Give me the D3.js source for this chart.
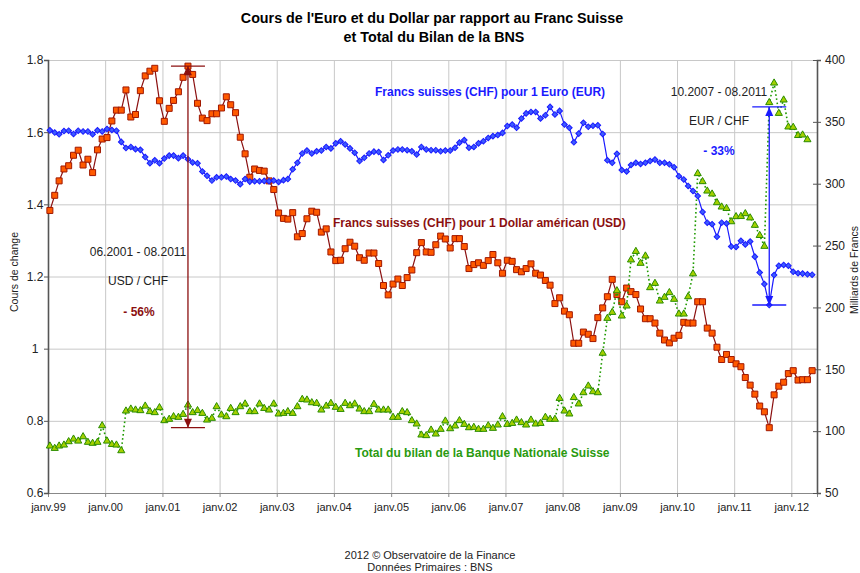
<!DOCTYPE html>
<html>
<head>
<meta charset="utf-8">
<script src="https://cdn.jsdelivr.net/npm/d3@7"></script>
<style>
body { margin: 0; background: #fff; }
text { font-family: "Liberation Sans", Arial, sans-serif; }
</style>
</head>
<body>
<script>
// monthly data, janv.1999 -> mai 2012
var yearLabels = ["janv.99","janv.00","janv.01","janv.02","janv.03","janv.04","janv.05",
  "janv.06","janv.07","janv.08","janv.09","janv.10","janv.11","janv.12"];

var eurChf = [1.605,1.599,1.594,1.603,1.604,1.595,1.604,1.602,1.602,1.594,1.605,1.602,
1.609,1.606,1.604,1.573,1.556,1.559,1.553,1.551,1.531,1.514,1.522,1.514,
1.527,1.535,1.535,1.528,1.535,1.525,1.516,1.514,1.491,1.479,1.466,1.475,
1.475,1.477,1.470,1.466,1.456,1.470,1.463,1.464,1.464,1.465,1.464,1.466,
1.462,1.467,1.470,1.497,1.515,1.541,1.549,1.541,1.547,1.549,1.559,1.555,
1.569,1.575,1.566,1.555,1.543,1.520,1.529,1.541,1.546,1.545,1.523,1.536,
1.549,1.552,1.552,1.550,1.547,1.538,1.559,1.552,1.550,1.550,1.547,1.549,
1.549,1.557,1.571,1.578,1.557,1.559,1.569,1.575,1.584,1.589,1.592,1.598,
1.617,1.621,1.612,1.638,1.652,1.656,1.656,1.638,1.647,1.670,1.649,1.659,
1.621,1.612,1.572,1.596,1.626,1.615,1.618,1.619,1.595,1.522,1.515,1.540,
1.495,1.491,1.509,1.515,1.512,1.515,1.520,1.524,1.515,1.515,1.511,1.503,
1.478,1.469,1.451,1.437,1.423,1.379,1.349,1.345,1.310,1.349,1.347,1.283,
1.282,1.299,1.289,1.297,1.255,1.211,1.179,1.121,1.204,1.230,1.232,1.230,
1.213,1.209,1.208,1.206,1.205];

var usdChf = [1.383,1.425,1.465,1.498,1.507,1.536,1.550,1.509,1.525,1.488,1.551,1.581,
1.585,1.631,1.661,1.661,1.717,1.642,1.649,1.715,1.756,1.769,1.777,1.687,
1.630,1.666,1.688,1.712,1.752,1.783,1.760,1.680,1.639,1.632,1.651,1.651,
1.667,1.698,1.676,1.654,1.586,1.540,1.475,1.498,1.494,1.492,1.465,1.441,
1.376,1.361,1.359,1.377,1.310,1.319,1.360,1.381,1.378,1.323,1.332,1.268,
1.244,1.245,1.277,1.295,1.284,1.252,1.245,1.265,1.265,1.236,1.175,1.149,
1.179,1.193,1.175,1.197,1.218,1.266,1.294,1.268,1.267,1.288,1.312,1.304,
1.279,1.305,1.305,1.283,1.222,1.233,1.238,1.231,1.244,1.261,1.238,1.209,
1.245,1.242,1.219,1.213,1.222,1.235,1.209,1.204,1.189,1.176,1.125,1.141,
1.104,1.094,1.015,1.015,1.046,1.040,1.028,1.086,1.113,1.144,1.192,1.150,
1.130,1.168,1.158,1.150,1.110,1.083,1.083,1.071,1.043,1.024,1.016,1.029,
1.037,1.073,1.071,1.071,1.130,1.130,1.057,1.043,1.004,0.970,0.984,0.970,
0.958,0.950,0.920,0.899,0.874,0.841,0.825,0.781,0.872,0.896,0.907,0.931,
0.939,0.913,0.914,0.914,0.939];

// total du bilan BNS, milliards CHF (jusqu'à avril 2012)
var bnsTotal = [88.0,86.1,88.0,88.8,91.5,93.6,92.0,95.5,91.0,90.2,91.0,104.4,
92.0,89.3,88.8,84.2,116.3,117.9,117.1,116.6,120.3,115.8,115.0,119.0,
108.5,109.6,111.7,111.2,113.6,121.1,115.0,116.6,114.4,109.0,110.4,119.8,
113.1,111.7,118.4,115.0,119.8,122.0,115.8,115.8,122.0,118.4,117.1,122.0,
113.9,114.4,115.8,114.4,119.8,125.7,125.2,123.0,122.5,117.1,120.3,122.5,
119.3,117.6,122.5,120.6,122.0,117.9,115.8,115.8,121.7,117.1,117.1,117.1,
111.2,111.2,115.8,115.0,108.5,105.8,96.9,96.4,100.9,97.7,101.5,108.2,
102.0,104.2,108.5,105.5,102.8,103.1,101.5,101.5,104.4,102.3,105.0,111.7,
105.5,106.3,109.0,106.9,105.0,109.0,105.8,106.3,111.2,109.6,109.6,126.5,
116.3,113.9,127.2,122.0,131.1,136.5,131.9,131.1,163.0,191.2,196.0,213.5,
193.1,201.2,238.4,245.3,235.7,241.6,216.0,219.5,205.2,208.2,212.0,206.6,
194.7,194.7,208.7,227.2,308.2,301.7,294.1,291.7,284.7,281.2,280.0,269.3,
273.4,273.6,275.8,272.4,266.4,258.2,249.4,365.6,381.4,356.9,367.7,345.9,
345.6,339.0,339.4,335.6];

var leftTicks = [0.6, 0.8, 1, 1.2, 1.4, 1.6, 1.8];
var rightTicks = [50, 100, 150, 200, 250, 300, 350, 400];

// index of the points used for the two arrows
var usdHigh = 29, eurHigh = 105, low = 151;

var width = 860, height = 573;
var pLeft = 48, pRight = 817, pTop = 60, pBottom = 493;

var svg = d3.select("body").append("svg")
    .attr("width", width)
    .attr("height", height);

var months = eurChf.map(function(d, i) { return new Date(1999, i, 13); });
var years = yearLabels.map(function(d, i) { return new Date(1999 + i, 0, 1); });

var x = d3.scaleTime()
    .domain([new Date(1999, 0, 1), new Date(2012, 5, 13)])
    .range([pLeft, pRight]);
var y = d3.scaleLinear().domain([0.6, 1.8]).range([pBottom, pTop]);
var y2 = d3.scaleLinear().domain([50, 400]).range([pBottom, pTop]);

// grid
svg.append("g")
    .attr("transform", "translate(" + pLeft + ",0)")
    .call(d3.axisLeft(y).tickValues(leftTicks).tickSize(-(pRight - pLeft)).tickFormat(""))
    .call(function(g) {
      g.select(".domain").remove();
      g.selectAll("line").attr("stroke", "#c8c8c8");
    });
svg.append("g")
    .attr("transform", "translate(0," + pBottom + ")")
    .call(d3.axisBottom(x).tickValues(years).tickSize(-(pBottom - pTop)).tickFormat(""))
    .call(function(g) {
      g.select(".domain").remove();
      g.selectAll("line").attr("stroke", "#c8c8c8");
    });

// axes
var gx = svg.append("g")
    .attr("transform", "translate(0," + pBottom + ")")
    .call(d3.axisBottom(x).tickValues(years).tickSize(4).tickPadding(6)
      .tickFormat(function(d, i) { return yearLabels[i]; }));
gx.select(".domain").attr("stroke", "#888");
gx.selectAll("line").attr("stroke", "#888");
gx.selectAll("text").attr("font-size", 11).attr("fill", "#222")
    .style("font-family", "'Liberation Sans', Arial, sans-serif");

var gl = svg.append("g")
    .attr("transform", "translate(" + pLeft + ",0)")
    .call(d3.axisLeft(y).tickValues(leftTicks).tickSize(4).tickFormat(d3.format("")));
gl.select(".domain").attr("stroke", "#555").attr("stroke-width", 1.6);
gl.selectAll("line").attr("stroke", "#555");
gl.selectAll("text").attr("font-size", 12).attr("fill", "#222")
    .attr("x", -13).attr("text-anchor", "middle")
    .style("font-family", "'Liberation Sans', Arial, sans-serif");

var gr = svg.append("g")
    .attr("transform", "translate(" + pRight + ",0)")
    .call(d3.axisRight(y2).tickValues(rightTicks).tickSize(4).tickPadding(4));
gr.select(".domain").attr("stroke", "#555").attr("stroke-width", 1.6);
gr.selectAll("line").attr("stroke", "#555").attr("x1", -4);
gr.selectAll("text").attr("font-size", 12).attr("fill", "#222").attr("x", 8)
    .style("font-family", "'Liberation Sans', Arial, sans-serif");

// series
var lineRate = d3.line()
    .x(function(d, i) { return x(months[i]); })
    .y(function(d) { return y(d); });
var lineBns = d3.line()
    .x(function(d, i) { return x(months[i]); })
    .y(function(d) { return y2(d); });

svg.append("path").datum(usdChf)
    .attr("d", lineRate)
    .attr("fill", "none").attr("stroke", "#8b1010").attr("stroke-width", 1.2);
svg.selectAll(".usd").data(usdChf).enter().append("path")
    .attr("class", "usd")
    .attr("d", d3.symbol().type(d3.symbolSquare).size(36))
    .attr("transform", function(d, i) { return "translate(" + x(months[i]) + "," + y(d) + ")"; })
    .attr("fill", "#ff5a00").attr("stroke", "#a01800").attr("stroke-width", 1);

svg.append("path").datum(bnsTotal)
    .attr("d", lineBns)
    .attr("fill", "none").attr("stroke", "#1f9a00").attr("stroke-width", 1.6)
    .attr("stroke-dasharray", "1.6,2.6");
svg.selectAll(".bns").data(bnsTotal).enter().append("path")
    .attr("class", "bns")
    .attr("d", d3.symbol().type(d3.symbolTriangle).size(22))
    .attr("transform", function(d, i) { return "translate(" + x(months[i]) + "," + y2(d) + ")"; })
    .attr("fill", "#a4d000").attr("stroke", "#2a8c00").attr("stroke-width", 1);

svg.append("path").datum(eurChf)
    .attr("d", lineRate)
    .attr("fill", "none").attr("stroke", "#1a1aff").attr("stroke-width", 1.2);
svg.selectAll(".eur").data(eurChf).enter().append("path")
    .attr("class", "eur")
    .attr("d", d3.symbol().type(d3.symbolSquare).size(16))
    .attr("transform", function(d, i) { return "translate(" + x(months[i]) + "," + y(d) + ") rotate(45)"; })
    .attr("fill", "#3d5cff").attr("stroke", "#1a1aff").attr("stroke-width", 1);

// arrows
function arrow(xi, v0, v1, color) {
  var ax = x(months[xi]), ya = y(v0), yb = y(v1);
  var g = svg.append("g").attr("stroke", color).attr("fill", color);
  g.append("line").attr("x1", ax).attr("x2", ax).attr("y1", ya).attr("y2", yb).attr("stroke-width", 1.3);
  g.append("line").attr("x1", ax - 17).attr("x2", ax + 17).attr("y1", ya).attr("y2", ya).attr("stroke-width", 1.3);
  g.append("line").attr("x1", ax - 17).attr("x2", ax + 17).attr("y1", yb).attr("y2", yb).attr("stroke-width", 1.3);
  var dir = yb > ya ? 1 : -1;
  g.append("path").attr("stroke", "none")
      .attr("d", "M" + ax + "," + ya + "l-4," + (dir * 9) + "h8z");
  g.append("path").attr("stroke", "none")
      .attr("d", "M" + ax + "," + yb + "l-4," + (-dir * 9) + "h8z");
}
arrow(usdHigh, usdChf[usdHigh], usdChf[low], "#8b1010");
arrow(low, eurChf[eurHigh], eurChf[low], "#1a1aff");

// texts
function label(tx, ty, str, opts) {
  var t = svg.append("text").attr("x", tx).attr("y", ty).text(str)
      .attr("font-size", opts.size || 12)
      .attr("fill", opts.fill || "#222")
      .attr("font-weight", opts.bold ? "bold" : "normal")
      .attr("text-anchor", opts.anchor || "start");
  if (opts.rotate) t.attr("transform", "rotate(-90," + tx + "," + ty + ")");
  return t;
}

label(432, 23, "Cours de l'Euro et du Dollar par rapport au Franc Suisse", {size: 14.3, bold: true, fill: "#000", anchor: "middle"});
label(434, 42, "et Total du Bilan de la BNS", {size: 14.3, bold: true, fill: "#000", anchor: "middle"});

label(375, 96, "Francs suisses (CHF) pour 1 Euro (EUR)", {bold: true, fill: "#1a1aff"});
label(333, 227, "Francs suisses (CHF) pour 1 Dollar américan (USD)", {bold: true, fill: "#8b1010"});
label(355, 457, "Total du bilan de la Banque Nationale Suisse", {bold: true, fill: "#2a9a10"});

label(138, 256, "06.2001 - 08.2011", {anchor: "middle"});
label(138, 285, "USD / CHF", {anchor: "middle"});
label(139, 316, "- 56%", {anchor: "middle", bold: true, fill: "#8b1010"});

label(719, 96, "10.2007 - 08.2011", {anchor: "middle"});
label(719, 125, "EUR / CHF", {anchor: "middle"});
label(719, 155, "- 33%", {anchor: "middle", bold: true, fill: "#1a1aff"});

label(18, 272, "Cours de change", {size: 10.5, anchor: "middle", rotate: true});
label(858, 270, "Milliards de Francs", {size: 10.5, anchor: "middle", rotate: true});

label(430, 559, "2012 © Observatoire de la Finance", {size: 11, anchor: "middle"});
label(430, 571, "Données Primaires : BNS", {size: 11, anchor: "middle"});
</script>
</body>
</html>
